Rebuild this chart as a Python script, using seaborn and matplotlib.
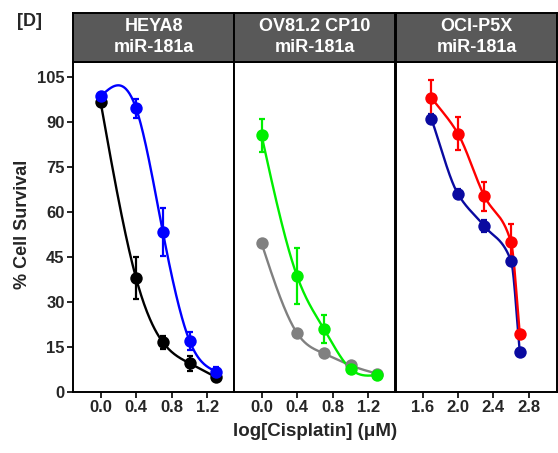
import numpy as np
import pandas as pd
import matplotlib
matplotlib.use("Agg")
import matplotlib.pyplot as plt
import seaborn as sns

# =====================================================
# DATA
# =====================================================

panel_titles = ["HEYA8\nmiR-181a", "OV81.2 CP10\nmiR-181a", "OCI-P5X\nmiR-181a"]

x_low = [0.0, 0.4, 0.7, 1.0, 1.3]
x_high = [1.7, 2.0, 2.3, 2.6, 2.7]

heya_ctrl = [96.7, 37.8, 16.5, 9.5, 4.8]
heya_ctrl_err = [0.8, 7.0, 2.2, 2.5, 1.0]
heya_mir = [98.5, 94.5, 53.3, 17.0, 6.7]
heya_mir_err = [1.0, 3.3, 8.0, 3.0, 1.5]

ov_ctrl = [49.5, 19.5, 12.8, 8.8, 6.0]
ov_ctrl_err = [0.5, 0.5, 0.5, 0.5, 0.5]
ov_mir = [85.5, 38.5, 21.0, 7.6, 5.6]
ov_mir_err = [5.5, 9.3, 4.7, 1.5, 1.0]

oci_ctrl = [91.0, 66.0, 55.2, 43.7, 13.1]
oci_ctrl_err = [1.5, 1.5, 2.0, 1.0, 0.5]
oci_mir = [98.1, 86.1, 65.2, 49.9, 19.2]
oci_mir_err = [6.0, 5.4, 4.8, 6.0, 0.5]

y_ticks = [0, 15, 30, 45, 60, 75, 90, 105]


def natural_spline(x, y, n=200):
    # natural cubic spline through the points (smooth fitted curve)
    x = np.asarray(x, float)
    y = np.asarray(y, float)
    k = len(x)
    h = np.diff(x)
    A = np.zeros((k, k))
    b = np.zeros(k)
    A[0, 0] = A[-1, -1] = 1
    for i in range(1, k - 1):
        A[i, i - 1] = h[i - 1]
        A[i, i] = 2 * (h[i - 1] + h[i])
        A[i, i + 1] = h[i]
        b[i] = 6 * ((y[i + 1] - y[i]) / h[i] - (y[i] - y[i - 1]) / h[i - 1])
    M = np.linalg.solve(A, b)
    xs = np.linspace(x[0], x[-1], n)
    idx = np.clip(np.searchsorted(x, xs) - 1, 0, k - 2)
    x0, x1 = x[idx], x[idx + 1]
    hh = x1 - x0
    ys = (M[idx] * (x1 - xs) ** 3 / (6 * hh) + M[idx + 1] * (xs - x0) ** 3 / (6 * hh)
          + (y[idx] / hh - M[idx] * hh / 6) * (x1 - xs)
          + (y[idx + 1] / hh - M[idx + 1] * hh / 6) * (xs - x0))
    return pd.DataFrame({"x": xs, "y": ys})


def pchip(x, y, n=200):
    # monotone cubic (no wiggle between unevenly spaced points)
    x = np.asarray(x, float)
    y = np.asarray(y, float)
    h = np.diff(x)
    d = np.diff(y) / h
    m = np.zeros_like(y)
    for i in range(1, len(x) - 1):
        if d[i - 1] * d[i] > 0:
            w1 = 2 * h[i] + h[i - 1]
            w2 = h[i] + 2 * h[i - 1]
            m[i] = (w1 + w2) / (w1 / d[i - 1] + w2 / d[i])
    m[0] = d[0]
    m[-1] = d[-1]
    xs = np.linspace(x[0], x[-1], n)
    idx = np.clip(np.searchsorted(x, xs) - 1, 0, len(x) - 2)
    hh = h[idx]
    t = (xs - x[idx]) / hh
    ys = ((2 * t ** 3 - 3 * t ** 2 + 1) * y[idx] + (t ** 3 - 2 * t ** 2 + t) * hh * m[idx]
          + (-2 * t ** 3 + 3 * t ** 2) * y[idx + 1] + (t ** 3 - t ** 2) * hh * m[idx + 1])
    return pd.DataFrame({"x": xs, "y": ys})


# =====================================================
# STYLE
# =====================================================

sns.set_theme(style="ticks")
plt.rcParams["font.family"] = ["Liberation Sans", "DejaVu Sans"]
plt.rcParams["font.weight"] = "bold"

fig = plt.figure(figsize=(5.58, 4.53), dpi=100)

lefts = [73 / 558, 234 / 558, 396 / 558]
width = 161 / 558
bottom = 1 - 391.7 / 453
height = (391.7 - 62) / 453
head_bottom = 1 - 62 / 453
head_height = (62 - 12.5) / 453

panels = [
    (x_low, [(heya_ctrl, heya_ctrl_err, "black"), (heya_mir, heya_mir_err, "#0000ff")],
     (-0.31, 1.5), [0.0, 0.4, 0.8, 1.2], natural_spline),
    (x_low, [(ov_ctrl, ov_ctrl_err, "#808080"), (ov_mir, ov_mir_err, "#00ee00")],
     (-0.31, 1.5), [0.0, 0.4, 0.8, 1.2], natural_spline),
    (x_high, [(oci_ctrl, oci_ctrl_err, "#0a0aa0"), (oci_mir, oci_mir_err, "#ff0000")],
     (1.3, 3.12), [1.6, 2.0, 2.4, 2.8], pchip),
]

for i, (xv, series, xlim, xticks, fit) in enumerate(panels):
    ax = fig.add_axes([lefts[i], bottom, width, height])
    for yv, err, col in series:
        curve = fit(xv, yv)
        sns.lineplot(data=curve, x="x", y="y", color=col, lw=1.7, ax=ax)
        ax.errorbar(xv, yv, yerr=err, fmt="none", ecolor=col, elinewidth=1.6,
                    capsize=2.5, capthick=1.6)
        sns.scatterplot(x=xv, y=yv, color=col, s=80, edgecolor=col, linewidth=0,
                        ax=ax, zorder=3)
    ax.set_xlim(*xlim)
    ax.set_ylim(0, 110)
    ax.set_xticks(xticks)
    ax.set_xticklabels([f"{t:.1f}" for t in xticks], fontsize=12, fontweight="bold")
    ax.set_xlabel("")
    ax.set_ylabel("")
    if i == 0:
        ax.set_yticks(y_ticks)
        ax.set_yticklabels([str(t) for t in y_ticks], fontsize=12, fontweight="bold")
    else:
        ax.set_yticks([])
    ax.tick_params(length=4, width=1.2, color="black", pad=2)
    for s in ax.spines.values():
        s.set_visible(True)
        s.set_linewidth(1.4)
        s.set_color("black")

    hax = fig.add_axes([lefts[i], head_bottom, width, head_height])
    hax.set_facecolor("#595959")
    hax.set_xticks([])
    hax.set_yticks([])
    for s in hax.spines.values():
        s.set_linewidth(1.4)
        s.set_color("black")
    hax.text(0.5, 0.5, panel_titles[i], ha="center", va="center", color="white",
             fontsize=13, fontweight="bold", linespacing=1.3, transform=hax.transAxes)

fig.text(23 / 558, 1 - 224 / 453, "% Cell Survival", rotation=90, ha="center",
         va="center", fontsize=13, fontweight="bold")
fig.text(315 / 558, 1 - 432 / 453, "log[Cisplatin] (\u03bcM)", ha="center",
         va="center", fontsize=13.5, fontweight="bold")
fig.text(30 / 558, 1 - 22 / 453, "[D]", ha="center", va="center", fontsize=13,
         fontweight="bold")

fig.savefig("out.png", dpi=100)
